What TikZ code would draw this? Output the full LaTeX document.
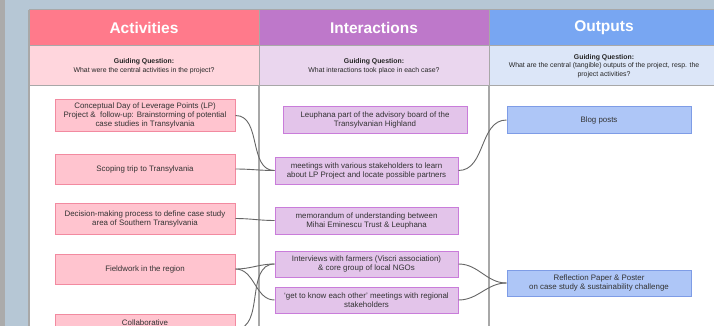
\documentclass[tikz,border=0pt]{standalone}
\usepackage{fontspec}
\setmainfont{Liberation Sans}
\definecolor{bgblue}{HTML}{B6C7D5}
\definecolor{bggray}{HTML}{ABABAB}
\definecolor{hdA}{HTML}{FF7A8B}
\definecolor{subA}{HTML}{FFD6DD}
\definecolor{hdI}{HTML}{BE78CA}
\definecolor{subI}{HTML}{EAD6EE}
\definecolor{hdO}{HTML}{78A6F2}
\definecolor{subO}{HTML}{DCE6F8}
\definecolor{boxA}{HTML}{FFC4CF}
\definecolor{bdA}{HTML}{F28AA0}
\definecolor{boxI}{HTML}{E3C4EA}
\definecolor{bdI}{HTML}{C97CDA}
\definecolor{boxO}{HTML}{AEC6F7}
\definecolor{bdO}{HTML}{7E9CE6}
\definecolor{colline}{HTML}{A8A8A8}
\definecolor{conncol}{HTML}{666666}
\tikzset{
  header/.style={draw=colline, line width=1pt, minimum width=230pt, minimum height=36pt, inner sep=0pt,
    text=white, font=\fontsize{15.5}{18}\selectfont\bfseries},
  subheader/.style={draw=colline, line width=1pt, minimum width=230pt, minimum height=40pt, inner sep=0pt,
    align=center, text=black!85, font=\fontsize{6.9}{8.6}\selectfont},
  abox/.style={draw=bdA, fill=boxA, line width=1pt, minimum width=180pt, inner sep=1pt, align=center,
    text=black!80, font=\fontsize{7.9}{9}\selectfont},
  ibox/.style={draw=bdI, fill=boxI, line width=1pt, minimum width=183pt, minimum height=26pt, inner sep=1pt, align=center,
    text=black!80, font=\fontsize{7.9}{9}\selectfont},
  obox/.style={draw=bdO, fill=boxO, line width=1pt, minimum width=184pt, minimum height=26pt, inner sep=1pt, align=center,
    text=black!80, font=\fontsize{7.9}{9}\selectfont},
  conn/.style={draw=conncol, line width=0.9pt},
  colsep/.style={draw=colline, line width=1.6pt}
}
\begin{document}
\begin{tikzpicture}[x=1pt,y=-1pt]
\useasboundingbox (0,0) rectangle (714,326);
\clip (0,0) rectangle (714,326);
% background
\fill[bgblue] (0,0) rectangle (714,326);
\fill[bggray] (0,0) rectangle (5,326);
\fill[white] (29,10) rectangle (720,330);
% column separators
\coordinate (c0t) at (29,10);
\coordinate (c0b) at (29,330);
\coordinate (c1t) at (259,10);
\coordinate (c1b) at (259,330);
\coordinate (c2t) at (489,10);
\coordinate (c2b) at (489,330);
\draw[colsep] (c0t) -- (c0b);
\draw[colsep] (c1t) -- (c1b);
\draw[colsep] (c2t) -- (c2b);
% headers
\node[header, fill=hdA] (hA) at (144,28) {Activities};
\node[header, fill=hdI] (hI) at (374,28) {Interactions};
\node[header, fill=hdO] (hO) at (604,28) {Outputs};
\node[subheader, fill=subA] (sA) at (144,66) {\textbf{Guiding Question:}\\What were the central activities in the project?};
\node[subheader, fill=subI] (sI) at (374,66) {\textbf{Guiding Question:}\\What interactions took place in each case?};
\node[subheader, fill=subO] (sO) at (604,66) {\textbf{Guiding Question:}\\What are the central (tangible) outputs of the project, resp. the\\project activities?};
% activities
\node[abox, minimum height=31pt] (A1) at (145,115.5) {Conceptual Day of Leverage Points (LP)\\Project \&\ \ follow-up: Brainstorming of potential\\case studies in Transylvania};
\node[abox, minimum height=30pt] (A2) at (145,169) {Scoping trip to Transylvania};
\node[abox, minimum height=31pt] (A3) at (145,218.5) {Decision-making process to define case study\\area of Southern Transylvania};
\node[abox, minimum height=30pt] (A4) at (145,269) {Fieldwork in the region};
\node[abox, minimum height=30pt, anchor=north, text depth=14pt] (A5) at (145,314) {Collaborative};
% interactions
\node[ibox, minimum width=184pt] (I1) at (375,120) {Leuphana part of the advisory board of the\\Transylvanian Highland};
\node[ibox, minimum height=27pt] (I2) at (366.5,170.5) {meetings with various stakeholders to learn\\about LP Project and locate possible partners};
\node[ibox, minimum height=27pt] (I3) at (366.5,220.5) {memorandum of understanding between\\Mihai Eminescu Trust \& Leuphana};
\node[ibox] (I4) at (366.5,264) {Interviews with farmers (Viscri association)\\\& core group of local NGOs};
\node[ibox] (I5) at (366.5,300) {`get to know each other' meetings with regional\\stakeholders};
% outputs
\node[obox] (O1) at (599,120) {Blog posts};
\node[obox] (O2) at (599,283) {Reflection Paper \& Poster\\on case study \& sustainability challenge};
% connectors
\draw[conn] (A1.east) to[out=0,in=180] (I2.west);
\draw[conn] (A2.east) to[out=0,in=180] (I2.west);
\draw[conn] (A3.east) to[out=0,in=180] (I3.west);
\draw[conn] (A4.east) to[out=0,in=180] (I4.west);
\draw[conn] (A4.east) to[out=0,in=180] (I5.west);
\draw[conn] ([yshift=-15pt]A5.north east) to[out=0,in=180] (I4.west);
\draw[conn] (I2.east) to[out=0,in=180] (O1.west);
\draw[conn] (I4.east) to[out=0,in=180] (O2.west);
\draw[conn] (I5.east) to[out=0,in=180] (O2.west);
\end{tikzpicture}
\end{document}
